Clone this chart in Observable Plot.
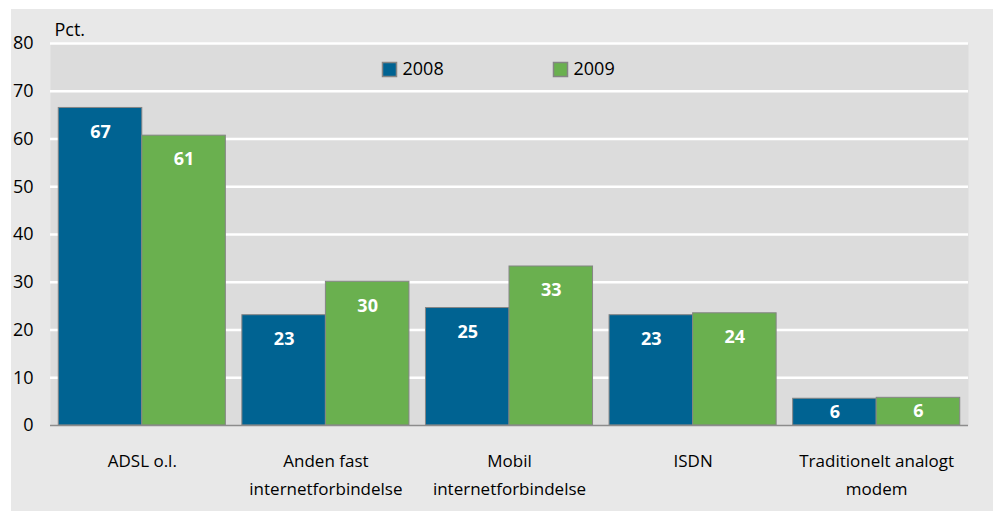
<!DOCTYPE html>
<html>
<head>
<meta charset="utf-8">
<script src="https://cdn.jsdelivr.net/npm/d3@7"></script>
<script src="https://cdn.jsdelivr.net/npm/@observablehq/plot@0.6"></script>
<style>
  html, body { margin: 0; padding: 0; background: #ffffff; }
  #wrap { position: relative; width: 995px; height: 511px; overflow: hidden; }
  #panel { position: absolute; left: 11px; top: 9px; width: 982px; height: 502px; background: #e8e8e8; }
  #chart { position: absolute; left: 0; top: 0; }
</style>
</head>
<body>
<div id="wrap"><div id="panel"></div><div id="chart"></div></div>
<script>
const categories = ["ADSL o.l.", "Anden fast\ninternetforbindelse", "Mobil\ninternetforbindelse", "ISDN", "Traditionelt analogt\nmodem"];
const years = ["2008", "2009"];
const values2008 = [66.5, 23.1, 24.6, 23.1, 5.6];
const values2009 = [60.7, 30.1, 33.3, 23.5, 5.8];
const labels2008 = ["67", "23", "25", "23", "6"];
const labels2009 = ["61", "30", "33", "24", "6"];
const yTicks = [0, 10, 20, 30, 40, 50, 60, 70, 80];
const colors = ["#006392", "#6ab04f"];
const unitLabel = "Pct.";

const halfBand = 0.455;
const table = categories.flatMap((c, i) => [
  {i, year: years[0], v: values2008[i], label: labels2008[i], x1: i - halfBand, x2: i},
  {i, year: years[1], v: values2009[i], label: labels2009[i], x1: i, x2: i + halfBand}
]);

const font = "'Open Sans', 'Noto Sans', sans-serif";

const chart = Plot.plot({
  width: 995,
  height: 511,
  marginLeft: 50,
  marginRight: 27,
  marginTop: 43,
  marginBottom: 86,
  x: {domain: [-0.5, categories.length - 0.5], axis: null},
  y: {domain: [0, 80], axis: null},
  color: {domain: years, range: colors},
  style: {fontFamily: font, color: "#000", background: "transparent", overflow: "visible"},
  marks: [
    Plot.frame({fill: "#dcdcdc", stroke: null}),
    Plot.ruleY(yTicks.filter(d => d > 0), {stroke: "#ffffff", strokeWidth: 2.5}),
    Plot.rectY(table, {x1: "x1", x2: "x2", y: "v", fill: "year", stroke: "#858585", strokeWidth: 1}),
    Plot.ruleY([0], {stroke: "#8c8c8c", strokeWidth: 1.5}),
    Plot.text(table.filter(d => d.v > 10), {
      x: d => (d.x1 + d.x2) / 2, y: "v", text: "label", dy: 24,
      fill: "#ffffff", fontWeight: "bold", fontSize: 18, lineAnchor: "middle"
    }),
    Plot.text(table.filter(d => d.v <= 10), {
      x: d => (d.x1 + d.x2) / 2, y: d => d.v / 2, text: "label",
      fill: "#ffffff", fontWeight: "bold", fontSize: 18, lineAnchor: "middle"
    }),
    Plot.axisY({ticks: yTicks, tickSize: 0, tickPadding: 17, fontSize: 18, textAnchor: "end", label: null}),
    Plot.axisX({
      ticks: d3.range(categories.length), tickFormat: i => categories[i],
      tickSize: 0, tickPadding: 22, fontSize: 17, lineHeight: 1.65, label: null
    }),
    Plot.text([unitLabel], {frameAnchor: "top-left", dx: 4, dy: -13, lineAnchor: "middle", textAnchor: "start", fontSize: 18}),
    // legend
    Plot.dot(years, {frameAnchor: "top-left", dx: 339, dy: 26, symbol: "square", r: 7.9, fill: colors[0], stroke: "#858585", filter: (d, i) => i === 0}),
    Plot.dot(years, {frameAnchor: "top-left", dx: 510, dy: 26, symbol: "square", r: 7.9, fill: colors[1], stroke: "#858585", filter: (d, i) => i === 1}),
    Plot.text([years[0]], {frameAnchor: "top-left", dx: 352, dy: 26, lineAnchor: "middle", textAnchor: "start", fontSize: 18}),
    Plot.text([years[1]], {frameAnchor: "top-left", dx: 523, dy: 26, lineAnchor: "middle", textAnchor: "start", fontSize: 18})
  ]
});
document.getElementById("chart").appendChild(chart);
</script>
</body>
</html>
